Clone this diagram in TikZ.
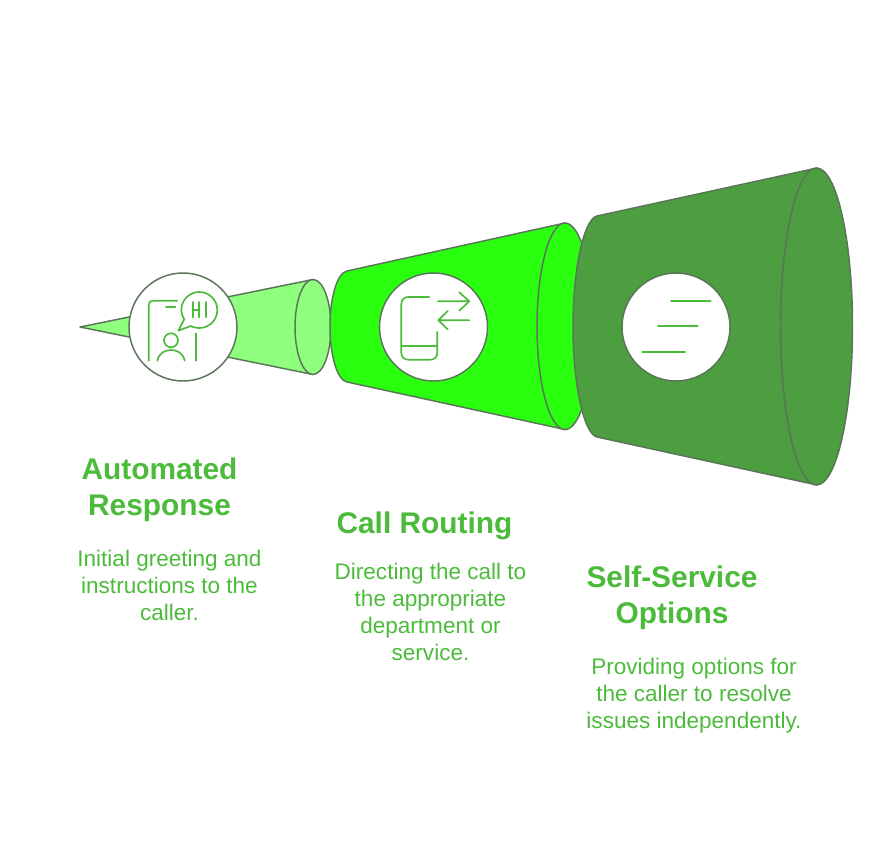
\documentclass[tikz,border=0pt]{standalone}
\usepackage{fontspec}
\setmainfont{Liberation Sans}
\definecolor{txtgreen}{HTML}{4CBB3B}
\definecolor{edgegrey}{HTML}{5A7558}
\definecolor{paleg}{HTML}{90FF7F}
\definecolor{brightg}{HTML}{2AFF10}
\definecolor{darkg}{HTML}{4C9E40}
\tikzset{
  conebody/.style={draw=edgegrey,line width=1.1pt,line join=round},
  badge/.style={circle,draw=edgegrey,fill=white,line width=1.1pt,minimum size=81pt,inner sep=0pt},
  icon/.style={draw=txtgreen,line width=1.25pt,line cap=round,line join=round},
  heading/.style={text=txtgreen,font=\fontsize{22.4pt}{27pt}\selectfont\bfseries,align=center,inner sep=0pt},
  bodytext/.style={text=txtgreen,font=\fontsize{16.9pt}{20.25pt}\selectfont,align=center,inner sep=0pt}
}
\begin{document}
\begin{tikzpicture}[x=0.75pt,y=-0.75pt]
\useasboundingbox[fill=white] (0,0) rectangle (891,849);
% cone 1
\path[conebody,fill=paleg] (80,327) -- (313,279.5) -- (313,374.5) -- cycle;
\path[conebody,fill=paleg] (313,327) ellipse [x radius=18,y radius=47.5];
% cone 2
\path[conebody,fill=brightg] (347,271) -- (565,223) -- (565,429.5) -- (347,382)
  .. controls (337,380) and (330,355) .. (330,326.5)
  .. controls (330,298) and (337,273) .. (347,271) -- cycle;
\path[conebody,fill=brightg] (565,326.3) ellipse [x radius=28,y radius=103.3];
% cone 3
\path[conebody,fill=darkg] (597,216) -- (817,168) -- (817,485) -- (597,437)
  .. controls (584,434) and (573,385) .. (573,326.5)
  .. controls (573,268) and (584,219) .. (597,216) -- cycle;
\path[conebody,fill=darkg] (816.5,326.5) ellipse [x radius=36,y radius=158.5];
% badges
\node[badge] (b1) at (183,327) {};
\node[badge] (b2) at (433.5,327) {};
\node[badge] (b3) at (676,327) {};
% icon 1
\draw[icon] (148.7,360.7) -- (148.7,305) .. controls (148.7,302) and (150.5,300.7) .. (153,300.7) -- (177.3,300.7);
\draw[icon] (166,306.7) -- (175.3,306.7);
\draw[icon] (196.3,333.3) -- (196.3,360.7);
\draw[icon] (171,340.3) circle [radius=7];
\draw[icon] (157.3,360.7) .. controls (159,353) and (165,350) .. (171,350) .. controls (177,350) and (183,353) .. (184.7,360.7);
\draw[icon] (184.3,319.3) .. controls (182.4,316.5) and (181.3,313.3) .. (181.3,310)
  .. controls (181.3,300) and (189.4,292) .. (199.3,292)
  .. controls (209.2,292) and (217.3,300) .. (217.3,310)
  .. controls (217.3,320) and (209.2,328) .. (199.3,328)
  .. controls (196,328) and (193,327.3) .. (190.7,326) -- (178.3,330.7) -- cycle;
\draw[icon] (193.3,302) -- (193.3,317.3) (199.3,302) -- (199.3,317.3) (193.3,309.7) -- (199.3,309.7) (206,302) -- (206,317.3);
% icon 2
\draw[icon] (429.3,297) -- (408.3,297) .. controls (404,297) and (401.3,300) .. (401.3,304) -- (401.3,352.7) .. controls (401.3,357) and (404,359.7) .. (408.3,359.7) -- (430.3,359.7) .. controls (434.5,359.7) and (437.3,357) .. (437.3,352.7) -- (437.3,332);
\draw[icon] (401.3,346) -- (437.3,346);
\draw[icon] (438,301.3) -- (469.3,301.3) (459.3,292.3) -- (469.3,301.3) -- (459.3,310.7);
\draw[icon] (469.3,320.3) -- (438.3,320.3) (447.7,311) -- (438.3,320.3) -- (447.7,329.3);
% icon 3
\draw[icon] (671,300.7) -- (710.7,300.7);
\draw[icon] (658,326.3) -- (697.7,326.3);
\draw[icon] (642.3,352) -- (685,352);
% text
\node[heading] (h1) at (159.5,490) {Automated\\Response};
\node[bodytext] (t1) at (169.5,585) {Initial greeting and\\instructions to the\\caller.};
\node[heading] (h2) at (424.5,526) {Call Routing};
\node[bodytext] (t2) at (430.5,611.5) {Directing the call to\\the appropriate\\department or\\service.};
\node[heading] (h3) at (672,598) {Self-Service\\Options};
\node[bodytext] (t3) at (694,696) {Providing options for\\the caller to resolve\\issues independently.};
\end{tikzpicture}
\end{document}
